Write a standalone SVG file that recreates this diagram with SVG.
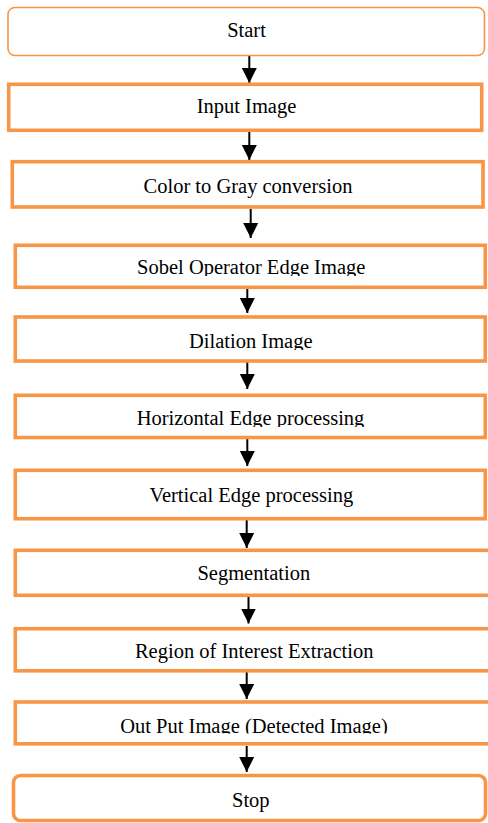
<svg xmlns="http://www.w3.org/2000/svg" width="488" height="823" viewBox="0 0 488 823">
<style>
.box{fill:#fff;stroke:#F79646;stroke-width:3.6}
.thin{fill:#fff;stroke:#F79646;stroke-width:1.6}
.lbl{font-family:"Liberation Serif","Times New Roman",serif;font-size:20.5px;fill:#000;text-anchor:middle}
.con{stroke:#000;stroke-width:2;fill:none;marker-end:url(#ah)}
</style>
<defs>
<marker id="ah" markerUnits="userSpaceOnUse" markerWidth="16" markerHeight="16" refX="15" refY="8" orient="auto" viewBox="0 0 16 16">
<path d="M0,0.5 L15,8 L0,15.5 Z" fill="#000"/>
</marker>
<clipPath id="c1"><rect x="0" y="0" width="488" height="276"/></clipPath>
<clipPath id="c2"><rect x="0" y="0" width="488" height="350"/></clipPath>
<clipPath id="c3"><rect x="0" y="0" width="488" height="427"/></clipPath>
<clipPath id="c4"><rect x="0" y="0" width="488" height="733.5"/></clipPath>
</defs>
<rect width="488" height="823" fill="#fff"/>
<g id="connectors">
<line class="con" x1="249.3" y1="56" x2="249.3" y2="83"/>
<line class="con" x1="249.3" y1="131" x2="249.3" y2="160"/>
<line class="con" x1="250.7" y1="209" x2="250.7" y2="238"/>
<line class="con" x1="247.3" y1="289" x2="247.3" y2="313"/>
<line class="con" x1="247.3" y1="362" x2="247.3" y2="389"/>
<line class="con" x1="247.3" y1="439" x2="247.3" y2="466"/>
<line class="con" x1="246.7" y1="520" x2="246.7" y2="548"/>
<line class="con" x1="248.5" y1="597" x2="248.5" y2="623.5"/>
<line class="con" x1="246.7" y1="672" x2="246.7" y2="699"/>
<line class="con" x1="246.7" y1="746" x2="246.7" y2="772"/>
</g>
<g id="start"><rect class="thin" x="8" y="7.5" width="476.5" height="48" rx="7"/><text class="lbl" x="246.5" y="37.3">Start</text></g>
<g id="input"><rect class="box" x="8.7" y="84.3" width="473" height="46"/><text class="lbl" x="246.5" y="113.3">Input Image</text></g>
<g id="gray"><rect class="box" x="12.3" y="161.7" width="470.7" height="45.3"/><text class="lbl" x="248" y="192.7">Color to Gray conversion</text></g>
<g id="sobel"><rect class="box" x="15.3" y="245.3" width="470" height="42"/><text class="lbl" x="251.2" y="274" clip-path="url(#c1)">Sobel Operator Edge Image</text></g>
<g id="dilation"><rect class="box" x="15.3" y="317" width="470" height="44"/><text class="lbl" x="250.8" y="348.3" clip-path="url(#c2)">Dilation Image</text></g>
<g id="horizontal"><rect class="box" x="15.3" y="395.3" width="470" height="42.2"/><text class="lbl" x="250.5" y="425" clip-path="url(#c3)">Horizontal Edge processing</text></g>
<g id="vertical"><rect class="box" x="15.3" y="470.3" width="470" height="48.4"/><text class="lbl" x="251.3" y="501.7">Vertical Edge processing</text></g>
<g id="segmentation"><rect class="box" x="15.3" y="550.3" width="482" height="45"/><text class="lbl" x="253.8" y="580">Segmentation</text></g>
<g id="roi"><rect class="box" x="15.3" y="628.7" width="482" height="42.1"/><text class="lbl" x="254.2" y="658.3">Region of Interest Extraction</text></g>
<g id="output"><rect class="box" x="15.3" y="702" width="482" height="41.8"/><text class="lbl" x="254" y="732.7" clip-path="url(#c4)">Out Put Image (Detected Image)</text></g>
<g id="stop"><rect class="box" x="13.5" y="775.5" width="472" height="45" rx="7" stroke-width="4.2"/><text class="lbl" x="250.8" y="806.7">Stop</text></g>
</svg>
